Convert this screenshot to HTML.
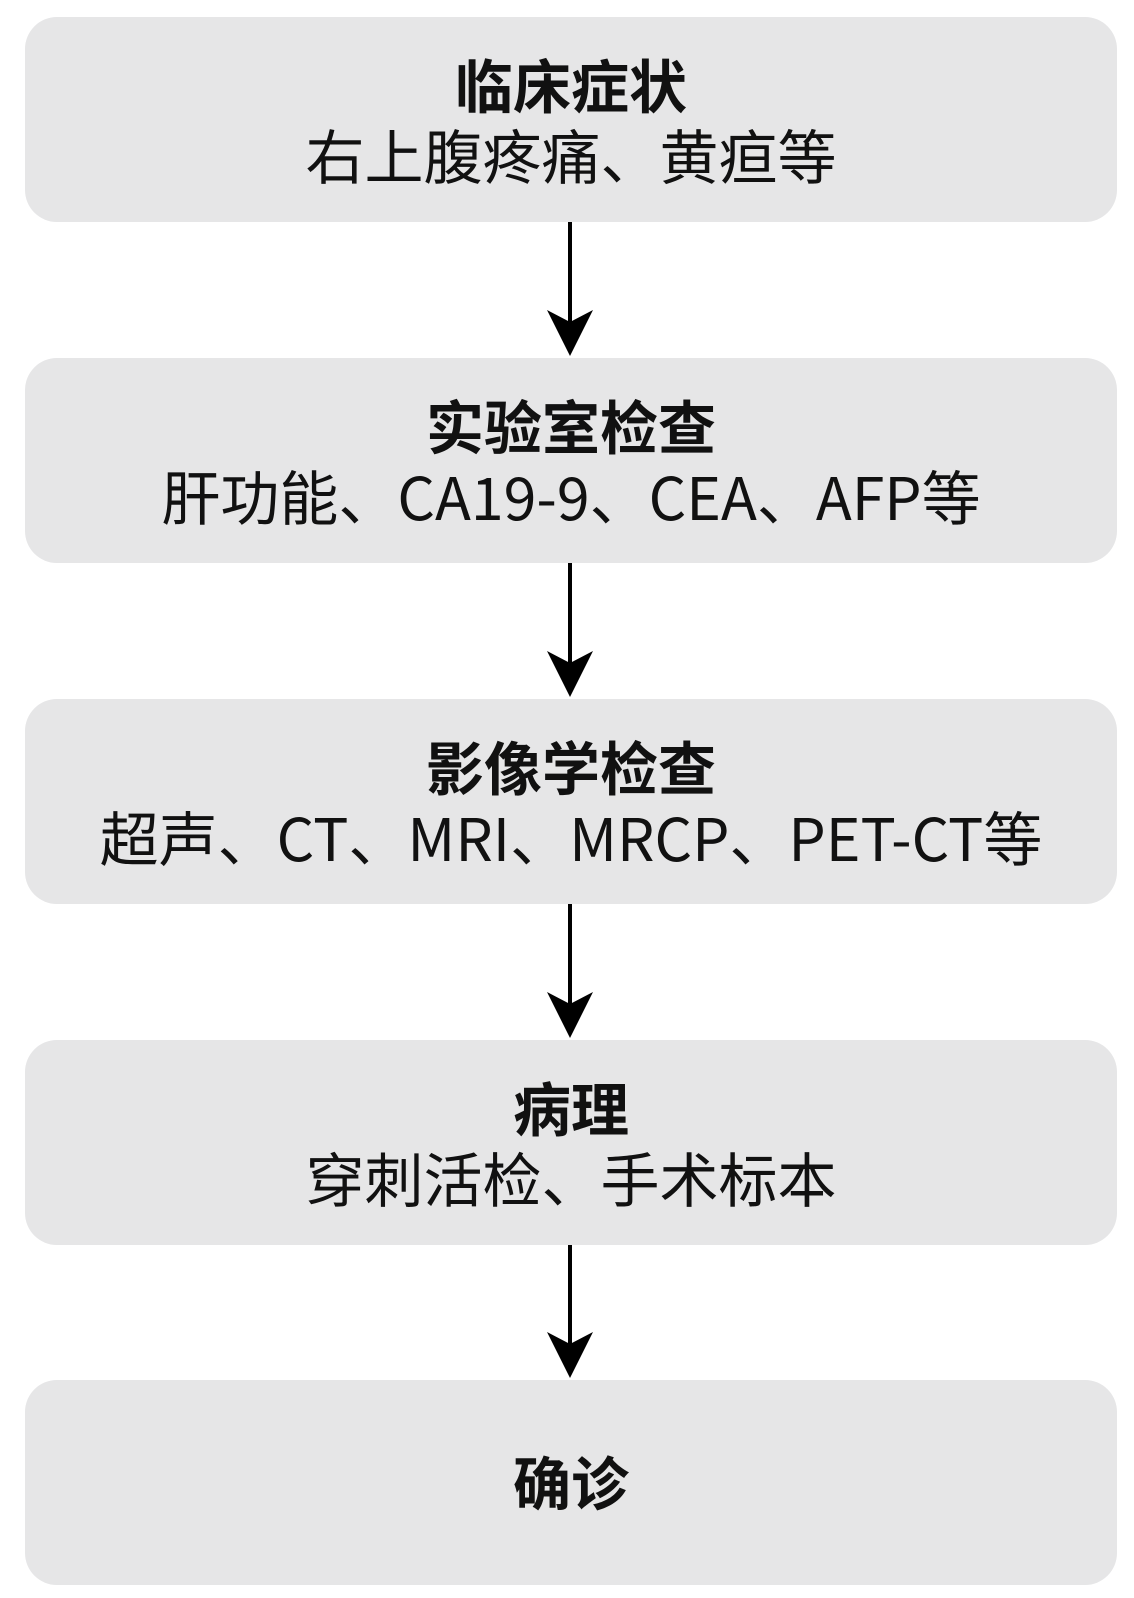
<!DOCTYPE html>
<html><head><meta charset="utf-8"><style>
body{margin:0;width:1134px;height:1598px;background:#fff;position:relative;font-family:"Noto Sans CJK SC","Liberation Sans",sans-serif;}
.b{position:absolute;left:25px;width:1092px;height:205px;background:#e6e6e7;border-radius:32px;text-align:center;color:#111;}
.t{position:absolute;left:0;right:0;top:36px;font-size:58px;font-weight:bold;line-height:60px;}
.s{position:absolute;left:0;right:0;top:107px;font-size:59px;line-height:60px;white-space:nowrap;}
</style></head><body>
<div class="b" style="top:17px"><div class="t">临床症状</div><div class="s">右上腹疼痛、黄疸等</div></div>
<div class="b" style="top:358px"><div class="t">实验室检查</div><div class="s">肝功能、CA19-9、CEA、AFP等</div></div>
<div class="b" style="top:699px"><div class="t">影像学检查</div><div class="s">超声、CT、MRI、MRCP、PET-CT等</div></div>
<div class="b" style="top:1040px"><div class="t">病理</div><div class="s">穿刺活检、手术标本</div></div>
<div class="b" style="top:1380px"><div class="t" style="top:70px">确诊</div></div>
<svg width="1134" height="1598" style="position:absolute;left:0;top:0">
<g fill="#000" stroke="#000" stroke-width="4">
<line x1="570" y1="222" x2="570" y2="330"/><polygon stroke="none" points="547,310 570,322 593,310 570,356"/>
<line x1="570" y1="563" x2="570" y2="671"/><polygon stroke="none" points="547,651 570,663 593,651 570,697"/>
<line x1="570" y1="904" x2="570" y2="1012"/><polygon stroke="none" points="547,992 570,1004 593,992 570,1038"/>
<line x1="570" y1="1245" x2="570" y2="1352"/><polygon stroke="none" points="547,1332 570,1344 593,1332 570,1378"/>
</g></svg>
</body></html>
